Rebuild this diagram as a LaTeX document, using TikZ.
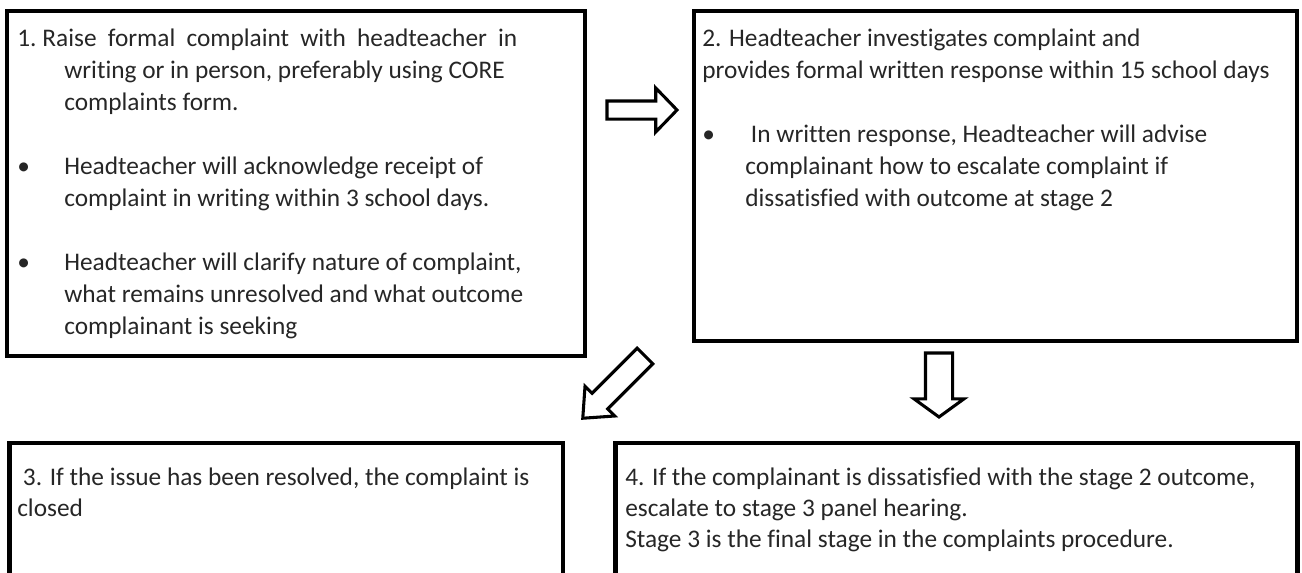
\documentclass[tikz,border=0pt]{standalone}
\usepackage{fontspec}
\setmainfont{Carlito}[Ligatures=NoCommon]
\usetikzlibrary{shapes.arrows}
\tikzset{
stagebox/.style={draw, line width=3.4pt, rectangle, inner sep=0pt, outer sep=0pt, anchor=north west},
stagetext/.style={anchor=north west, align=left, inner sep=0pt, text=black!85, font=\fontsize{19}{24}\selectfont},
blockarrow/.style={draw, fill=white, single arrow, line width=2.3pt, inner sep=0pt, outer sep=0pt, text depth=0pt, single arrow head indent=0pt, anchor=tail}
}
\begin{document}
\begin{tikzpicture}[x=0.75pt,y=-0.75pt]
\useasboundingbox (0,0) rectangle (1302,572);
\clip (0,0) rectangle (1302,572);
\def\stage#1#2#3#4#5{
\node [stagebox, minimum width=#4*0.75pt, minimum height=#5*0.75pt] (#1) at (#2,#3) {};
}
\def\push#1#2#3#4#5#6#7#8{
\node [blockarrow, rotate=#4, minimum height=#5*0.75pt, text height=#6*0.75pt, single arrow head extend=#7*0.75pt, single arrow tip angle=#8] (#1) at (#2,#3) {};
}
\def\top{\rule{0pt}{18pt}}
\stage{s1}{7}{11}{578}{345}
\stage{s2}{694}{11}{603}{330}
\stage{s3}{9.5}{443}{553.5}{177}
\stage{s4}{615.5}{443}{682}{177}
\push{a12}{607}{110}{0}{70}{15}{13}{92}
\push{a23}{645}{356}{225}{88}{19}{10}{82}
\push{a24}{939}{353}{-90}{64}{24}{11.5}{108}
\node [stagetext] (t1) at (17,22) {\top\makebox[375pt][s]{1.\hspace{4.5pt}Raise formal complaint with headteacher in}\\
\hspace*{35.25pt}writing or in person, preferably using CORE\\
\hspace*{35.25pt}complaints form.\\[24pt]
\makebox[35.25pt][l]{\textbullet}Headteacher will acknowledge receipt of\\
\hspace*{35.25pt}complaint in writing within 3 school days.\\[24pt]
\makebox[35.25pt][l]{\textbullet}Headteacher will clarify nature of complaint,\\
\hspace*{35.25pt}what remains unresolved and what outcome\\
\hspace*{35.25pt}complainant is seeking};
\node [stagetext] (t2) at (702,22) {\top 2. Headteacher investigates complaint and\\
provides formal written response within 15 school days\\[24pt]
\makebox[32.25pt][l]{\textbullet}\ In written response, Headteacher will advise\\
\hspace*{32.25pt}complainant how to escalate complaint if\\
\hspace*{32.25pt}dissatisfied with outcome at stage 2};
\node [stagetext, font=\fontsize{19}{23.25}\selectfont] (t3) at (17,461) {\top\ 3. If the issue has been resolved, the complaint is\\
closed};
\node [stagetext, font=\fontsize{19}{23.25}\selectfont] (t4) at (625,461) {\top 4. If the complainant is dissatisfied with the stage 2 outcome,\\
escalate to stage 3 panel hearing.\\
Stage 3 is the final stage in the complaints procedure.};
\end{tikzpicture}
\end{document}
